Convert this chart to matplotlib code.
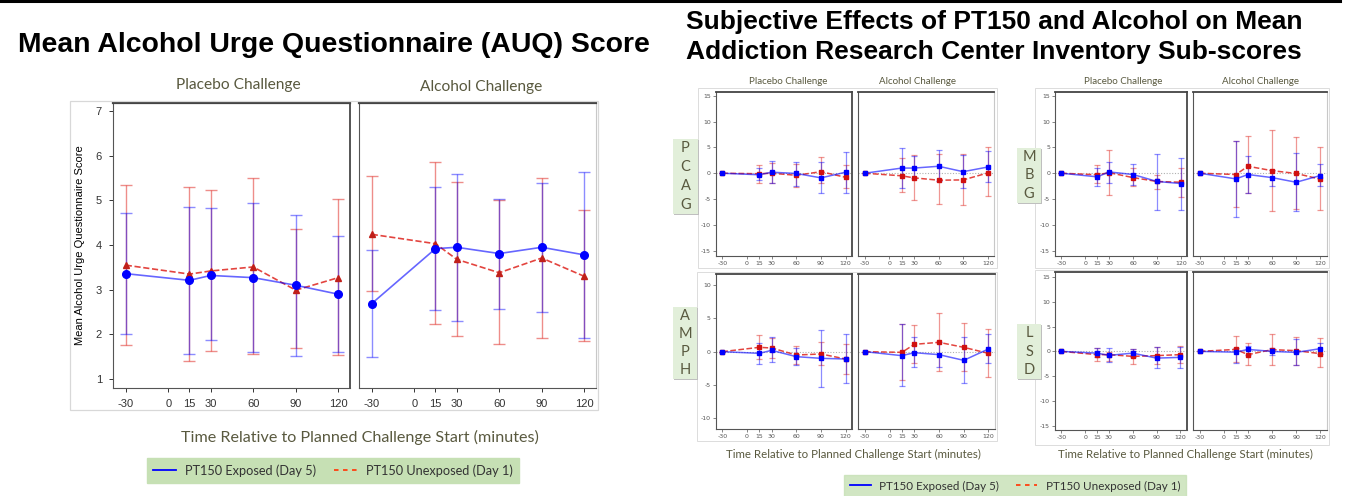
import matplotlib
matplotlib.use("Agg")
import matplotlib.pyplot as plt
from matplotlib.patches import Rectangle
from matplotlib.lines import Line2D

plt.rcParams["axes.unicode_minus"] = False

W, H = 1364, 496

# ---- shared axis values ----
TIMES = [-30, 15, 30, 60, 90, 120]
XTICKS = [-30, 0, 15, 30, 60, 90, 120]
AUQ_YTICKS = [1, 2, 3, 4, 5, 6, 7]

# ---- AUQ score: placebo challenge ----
AUQ_PLA_EXP = [3.36, 3.21, 3.32, 3.27, 3.10, 2.90]
AUQ_PLA_EXP_LO = [2.02, 1.56, 1.87, 1.61, 1.52, 1.61]
AUQ_PLA_EXP_HI = [4.71, 4.86, 4.82, 4.95, 4.68, 4.20]
AUQ_PLA_UNX = [3.55, 3.35, 3.42, 3.51, 2.99, 3.27]
AUQ_PLA_UNX_LO = [1.76, 1.41, 1.62, 1.55, 1.69, 1.54]
AUQ_PLA_UNX_HI = [5.35, 5.30, 5.23, 5.50, 4.36, 5.03]

# ---- AUQ score: alcohol challenge ----
AUQ_ALC_EXP = [2.69, 3.92, 3.95, 3.81, 3.95, 3.78]
AUQ_ALC_EXP_LO = [1.49, 2.55, 2.29, 2.56, 2.51, 1.92]
AUQ_ALC_EXP_HI = [3.89, 5.30, 5.59, 5.03, 5.38, 5.63]
AUQ_ALC_UNX = [4.24, 4.03, 3.68, 3.38, 3.71, 3.30]
AUQ_ALC_UNX_LO = [2.97, 2.24, 1.97, 1.78, 1.93, 1.86]
AUQ_ALC_UNX_HI = [5.54, 5.85, 5.41, 5.00, 5.51, 4.78]

# ---- ARCI PCAG ----
PCAG_PLA_EXP = [0, -0.3, 0.2, -0.05, -0.9, 0.2]
PCAG_PLA_EXP_LO = [0, -1.4, -1.9, -2.4, -3.9, -3.8]
PCAG_PLA_EXP_HI = [0, 1.0, 2.3, 2.2, 2.2, 4.1]
PCAG_PLA_UNX = [0, -0.1, 0.0, -0.4, 0.3, -0.8]
PCAG_PLA_UNX_LO = [0, -1.9, -1.9, -2.6, -1.9, -2.85]
PCAG_PLA_UNX_HI = [0, 1.55, 1.9, 1.7, 3.1, 1.55]
PCAG_ALC_EXP = [0, 1.0, 1.0, 1.35, 0.3, 1.2]
PCAG_ALC_EXP_LO = [0, -2.9, -1.0, -1.6, -2.9, -1.75]
PCAG_ALC_EXP_HI = [0, 4.8, 3.4, 4.5, 3.6, 4.3]
PCAG_ALC_UNX = [0, -0.5, -0.9, -1.35, -1.3, 0.05]
PCAG_ALC_UNX_LO = [0, -3.6, -5.1, -6.0, -6.2, -4.5]
PCAG_ALC_UNX_HI = [0, 2.9, 3.6, 3.7, 3.75, 5.0]

# ---- ARCI MBG ----
MBG_PLA_EXP = [0, -0.7, 0.25, -0.25, -1.6, -2.0]
MBG_PLA_EXP_LO = [0, -2.4, -1.8, -2.25, -7.1, -7.1]
MBG_PLA_EXP_HI = [0, 1.0, 2.25, 1.7, 3.8, 2.9]
MBG_PLA_UNX = [0, -0.3, 0.1, -0.85, -1.6, -1.75]
MBG_PLA_UNX_LO = [0, -1.9, -4.2, -2.45, -3.0, -4.6]
MBG_PLA_UNX_HI = [0, 1.55, 4.5, 1.0, -0.3, 1.1]
MBG_ALC_EXP = [0, -1.1, -0.25, -0.85, -1.75, -0.45]
MBG_ALC_EXP_LO = [0, -8.4, -3.9, -2.4, -7.3, -2.5]
MBG_ALC_EXP_HI = [0, 6.25, 3.35, 0.7, 3.9, 1.7]
MBG_ALC_UNX = [0, -0.25, 1.35, 0.5, -0.05, -1.15]
MBG_ALC_UNX_LO = [0, -6.6, -3.9, -7.35, -7.0, -7.1]
MBG_ALC_UNX_HI = [0, 6.25, 7.2, 8.45, 7.0, 5.0]

# ---- ARCI AMPH ----
AMPH_PLA_EXP = [0, -0.25, 0.2, -0.75, -1.0, -1.1]
AMPH_PLA_EXP_LO = [0, -1.9, -1.55, -2.0, -5.25, -4.75]
AMPH_PLA_EXP_HI = [0, 1.25, 2.2, 0.55, 3.25, 2.6]
AMPH_PLA_UNX = [0, 0.65, 0.55, -0.5, -0.35, -1.1]
AMPH_PLA_UNX_LO = [0, -1.1, -0.95, -1.9, -2.0, -3.4]
AMPH_PLA_UNX_HI = [0, 2.45, 2.1, 0.9, 1.4, 1.2]
AMPH_ALC_EXP = [0, -0.6, -0.15, -0.45, -1.3, 0.4]
AMPH_ALC_EXP_LO = [0, -5.15, -2.35, -2.25, -4.7, -1.75]
AMPH_ALC_EXP_HI = [0, 4.1, 2.2, 1.4, 2.2, 2.6]
AMPH_ALC_UNX = [0, -0.1, 1.1, 1.4, 0.65, -0.25]
AMPH_ALC_UNX_LO = [0, -4.25, -1.75, -2.9, -2.9, -3.75]
AMPH_ALC_UNX_HI = [0, 4.2, 3.95, 5.85, 4.3, 3.35]

# ---- ARCI LSD ----
LSD_PLA_EXP = [0, -0.35, -0.8, -0.35, -1.35, -1.2]
LSD_PLA_EXP_LO = [0, -1.2, -2.2, -1.15, -3.3, -3.3]
LSD_PLA_EXP_HI = [0, 0.6, 0.6, 0.45, 0.85, 0.95]
LSD_PLA_UNX = [0, -0.65, -0.65, -1.0, -0.85, -0.65]
LSD_PLA_UNX_LO = [0, -1.95, -1.95, -2.6, -2.55, -2.35]
LSD_PLA_UNX_HI = [0, 0.65, -0.15, 0.4, 0.95, 1.15]
LSD_ALC_EXP = [0, -0.15, 0.4, 0.0, -0.2, 0.55]
LSD_ALC_EXP_LO = [0, -2.35, -0.65, -0.65, -2.7, -0.55]
LSD_ALC_EXP_HI = [0, 0.65, 1.0, 0.6, 2.4, 1.75]
LSD_ALC_UNX = [0, 0.4, -0.65, 0.35, 0.15, -0.45]
LSD_ALC_UNX_LO = [0, -2.1, -2.8, -2.8, -2.7, -3.15]
LSD_ALC_UNX_HI = [0, 3.15, 1.6, 3.55, 2.9, 2.7]

PANEL_TITLES = ["Placebo Challenge", "Alcohol Challenge"]
XLABEL = "Time Relative to Planned Challenge Start (minutes)"
LEGEND_LABELS = ["PT150 Exposed (Day 5)", "PT150 Unexposed (Day 1)"]

BLUE = "#0000ff"
RED = "#e0302a"
DARKRED = "#c0201a"
OLIVE = "#59593f"
GREEN_BOX = "#c6e0b4"
LABEL_BOX = "#e2efda"
CAL = ["Lato", "DejaVu Sans"]
ARIAL = ["Liberation Sans", "DejaVu Sans"]

fig = plt.figure(figsize=(W / 100, H / 100), dpi=100)
fig.patch.set_facecolor("white")


def fbox(l, t, r, b):
    return [l / W, 1 - b / H, (r - l) / W, (b - t) / H]


def ftext(x, y, s, **kw):
    fig.text(x / W, 1 - y / H, s, **kw)


def frame(l, t, r, b, color="#d0d0d0", lw=0.8):
    fig.add_artist(Rectangle((l / W, 1 - b / H), (r - l) / W, (b - t) / H,
                             transform=fig.transFigure, fill=False,
                             edgecolor=color, linewidth=lw))


def style_axes(ax, right_dark, small):
    for side in ["left", "bottom"]:
        ax.spines[side].set_color("#555555")
        ax.spines[side].set_linewidth(0.8)
    ax.spines["top"].set_color("#444444")
    ax.spines["top"].set_linewidth(1.6 if not small else 1.3)
    ax.spines["right"].set_color("#555555" if right_dark else "#c8c8c8")
    ax.spines["right"].set_linewidth(1.4 if right_dark else 0.8)


def draw_series(ax, mean, lo, hi, color, marker, ls, ms, cap, elw, line_alpha, err_alpha, mcolor):
    yerr = [[m - l for m, l in zip(mean, lo)], [h - m for m, h in zip(mean, hi)]]
    ax.errorbar(TIMES, mean, yerr=yerr, fmt="none", ecolor=color, elinewidth=elw,
                capsize=cap, capthick=elw, alpha=err_alpha, zorder=2)
    ax.plot(TIMES, mean, color=color, linestyle=ls, linewidth=elw + 0.2,
            alpha=line_alpha, zorder=3)
    ax.plot(TIMES, mean, linestyle="none", marker=marker, markersize=ms,
            color=mcolor, zorder=4)


# ---------------- top rule ----------------
fig.add_artist(Line2D([0, 1340 / W], [1 - 1 / H, 1 - 1 / H], transform=fig.transFigure,
                      color="black", linewidth=2.2))

# ---------------- AUQ chart ----------------
ftext(334, 45, "Mean Alcohol Urge Questionnaire (AUQ) Score", ha="center", va="center",
      fontsize=20.4, fontweight="bold", family=ARIAL, color="black")
frame(70, 101, 598, 410, color="#d8d8d8", lw=0.9)

auq_panels = [
    (fbox(113, 103, 350, 388), AUQ_PLA_EXP, AUQ_PLA_EXP_LO, AUQ_PLA_EXP_HI,
     AUQ_PLA_UNX, AUQ_PLA_UNX_LO, AUQ_PLA_UNX_HI, True, 238, 85),
    (fbox(359, 103, 596, 388), AUQ_ALC_EXP, AUQ_ALC_EXP_LO, AUQ_ALC_EXP_HI,
     AUQ_ALC_UNX, AUQ_ALC_UNX_LO, AUQ_ALC_UNX_HI, False, 481, 87),
]
for i, (rect, em, el, eh, um, ul, uh, first, tx, ty) in enumerate(auq_panels):
    ax = fig.add_axes(rect)
    draw_series(ax, um, ul, uh, RED, "^", "--", 5, 4, 1.0, 0.9, 0.55, DARKRED)
    draw_series(ax, em, el, eh, BLUE, "o", "-", 5.5, 4, 1.0, 0.6, 0.45, BLUE)
    ax.set_xlim(-39, 128.3)
    ax.set_ylim(0.8, 7.18)
    ax.set_xticks(XTICKS)
    ax.set_yticks(AUQ_YTICKS)
    ax.tick_params(labelsize=8, length=3, width=0.7, colors="#333333", pad=5)
    for t in ax.get_xticklabels() + ax.get_yticklabels():
        t.set_family(ARIAL)
    if first:
        ax.set_ylabel("Mean Alcohol Urge Questionnaire Score", fontsize=8, family=ARIAL,
                      color="black", labelpad=8)
    else:
        ax.tick_params(axis="y", left=False, labelleft=False)
    style_axes(ax, right_dark=first, small=False)
    ftext(tx, ty, PANEL_TITLES[i], ha="center", va="center", fontsize=11.2,
          family=CAL, color=OLIVE)

ftext(360, 437, XLABEL, ha="center", va="center", fontsize=11.6, family=CAL, color=OLIVE)

# ---------------- ARCI chart ----------------
ftext(686, 22, "Subjective Effects of PT150 and Alcohol on Mean", ha="left", va="center",
      fontsize=19, fontweight="bold", family=ARIAL, color="black")
ftext(686, 52, "Addiction Research Center Inventory Sub-scores", ha="left", va="center",
      fontsize=19, fontweight="bold", family=ARIAL, color="black")

arci_groups = [
    ("PCAG", (715.7, 852.3, 858.3, 994.3), (92.3, 255.7), (-16, 15.7), [-15, -10, -5, 0, 5, 10, 15],
     (673, 139, 698, 214), (698, 88, 997, 268),
     [(PCAG_PLA_EXP, PCAG_PLA_EXP_LO, PCAG_PLA_EXP_HI, PCAG_PLA_UNX, PCAG_PLA_UNX_LO, PCAG_PLA_UNX_HI),
      (PCAG_ALC_EXP, PCAG_ALC_EXP_LO, PCAG_ALC_EXP_HI, PCAG_ALC_UNX, PCAG_ALC_UNX_LO, PCAG_ALC_UNX_HI)]),
    ("MBG", (1055, 1187.3, 1193.3, 1326.7), (92.3, 255.7), (-16, 15.7), [-15, -10, -5, 0, 5, 10, 15],
     (1017, 148, 1041, 203), (1035, 88, 1329, 268),
     [(MBG_PLA_EXP, MBG_PLA_EXP_LO, MBG_PLA_EXP_HI, MBG_PLA_UNX, MBG_PLA_UNX_LO, MBG_PLA_UNX_HI),
      (MBG_ALC_EXP, MBG_ALC_EXP_LO, MBG_ALC_EXP_HI, MBG_ALC_UNX, MBG_ALC_UNX_LO, MBG_ALC_UNX_HI)]),
    ("AMPH", (715.7, 852.3, 858.3, 995), (274, 429), (-11.6, 11.65), [-10, -5, 0, 5, 10],
     (673, 307, 697, 379), (697, 272, 997, 441),
     [(AMPH_PLA_EXP, AMPH_PLA_EXP_LO, AMPH_PLA_EXP_HI, AMPH_PLA_UNX, AMPH_PLA_UNX_LO, AMPH_PLA_UNX_HI),
      (AMPH_ALC_EXP, AMPH_ALC_EXP_LO, AMPH_ALC_EXP_HI, AMPH_ALC_UNX, AMPH_ALC_UNX_LO, AMPH_ALC_UNX_HI)]),
    ("LSD", (1055, 1186.7, 1193.3, 1326.7), (272.3, 430), (-15.8, 15.9), [-15, -10, -5, 0, 5, 10, 15],
     (1017, 324, 1041, 379), (1035, 270, 1329, 445),
     [(LSD_PLA_EXP, LSD_PLA_EXP_LO, LSD_PLA_EXP_HI, LSD_PLA_UNX, LSD_PLA_UNX_LO, LSD_PLA_UNX_HI),
      (LSD_ALC_EXP, LSD_ALC_EXP_LO, LSD_ALC_EXP_HI, LSD_ALC_UNX, LSD_ALC_UNX_LO, LSD_ALC_UNX_HI)]),
]

for name, xs, (top, bot), ylim, yticks, lbox, gframe, panels in arci_groups:
    frame(*gframe, color="#dcdcdc", lw=0.7)
    for j, (em, el, eh, um, ul, uh) in enumerate(panels):
        l, r = xs[2 * j], xs[2 * j + 1]
        ax = fig.add_axes(fbox(l, top, r, bot))
        ax.axhline(0, color="#b0b0b0", linewidth=0.8, linestyle=(0, (1, 1.5)), zorder=1)
        draw_series(ax, um, ul, uh, RED, "s", "--", 2.2, 2.2, 0.9, 0.9, 0.5, "#d01010")
        draw_series(ax, em, el, eh, BLUE, "s", "-", 2.6, 2.2, 0.9, 0.6, 0.45, BLUE)
        ax.set_xlim(-38, 128)
        ax.set_ylim(*ylim)
        ax.set_xticks(XTICKS)
        ax.set_yticks(yticks)
        ax.tick_params(labelsize=4.5, length=2, width=0.5, colors="#555555", pad=1.5)
        if j == 1:
            ax.tick_params(axis="y", left=False, labelleft=False)
        style_axes(ax, right_dark=(j == 0), small=True)
    # sub-score label tab
    bl, bt, br, bb = lbox
    fig.add_artist(Rectangle((bl / W + 0.0008, 1 - bb / H - 0.002), (br - bl) / W, (bb - bt) / H,
                             transform=fig.transFigure, facecolor="#bfbfbf", edgecolor="none"))
    fig.add_artist(Rectangle((bl / W, 1 - bb / H), (br - bl) / W, (bb - bt) / H,
                             transform=fig.transFigure, facecolor=LABEL_BOX, edgecolor="none"))
    n = len(name)
    step = (bb - bt) / n
    for k, ch in enumerate(name):
        ftext((bl + br) / 2, bt + step * (k + 0.5), ch, ha="center", va="center",
              fontsize=10.5, family=CAL, color=OLIVE)

# panel headers over the top row
for cx, s in [(788, PANEL_TITLES[0]), (918, PANEL_TITLES[1]),
              (1123, PANEL_TITLES[0]), (1260, PANEL_TITLES[1])]:
    ftext(cx, 81, s, ha="center", va="center", fontsize=7, family=CAL, color=OLIVE)

ftext(853, 454, XLABEL, ha="center", va="center", fontsize=8.3, family=CAL, color=OLIVE)
ftext(1185, 454, XLABEL, ha="center", va="center", fontsize=8.3, family=CAL, color=OLIVE)

# ---------------- legends ----------------
handles = [Line2D([], [], color=BLUE, linewidth=1.3),
           Line2D([], [], color="#ff4010", linewidth=1.3, linestyle=(0, (2.5, 2.5)))]

leg1 = fig.legend(handles, LEGEND_LABELS, loc="center", bbox_to_anchor=(333 / W, 1 - 470.5 / H),
                  ncol=2, frameon=True, fancybox=False, facecolor=GREEN_BOX, edgecolor=GREEN_BOX,
                  prop={"family": CAL, "size": 9.2}, handlelength=1.8, columnspacing=1.4,
                  borderpad=0.5, handletextpad=0.7)
for t in leg1.get_texts():
    t.set_color("#333333")
leg1.get_frame().set_alpha(1)

leg2 = fig.legend(handles, LEGEND_LABELS, loc="center", bbox_to_anchor=(1015 / W, 1 - 486 / H),
                  ncol=2, frameon=True, fancybox=False, facecolor=GREEN_BOX, edgecolor=GREEN_BOX,
                  prop={"family": CAL, "size": 8.4}, handlelength=1.8, columnspacing=1.5,
                  borderpad=0.5, handletextpad=0.7)
for t in leg2.get_texts():
    t.set_color("#333333")

fig.savefig("out.png", dpi=100, facecolor="white")
